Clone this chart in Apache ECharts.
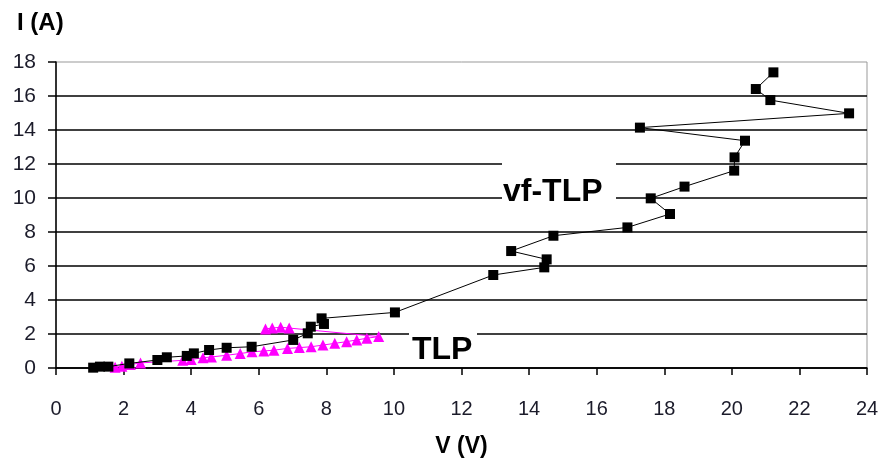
<!DOCTYPE html>
<html>
<head>
<meta charset="utf-8">
<script src="https://cdn.jsdelivr.net/npm/echarts@6/dist/echarts.min.js"></script>
<style>
  html, body { margin: 0; padding: 0; background: #fff; }
  #chart { width: 883px; height: 464px; }
</style>
</head>
<body>
<div id="chart"></div>
<script>
// vf-TLP measurement, in the order the curve is drawn
var vfV = [1.10, 1.30, 1.55, 2.17, 3.00, 3.28, 3.87, 4.08, 4.53, 5.05, 5.79, 7.02, 7.45, 7.54, 7.93, 7.86,
           10.03, 12.94, 14.45, 14.52, 13.47, 14.72, 16.91, 18.17, 17.60, 18.60, 20.07, 20.08, 20.39,
           17.28, 23.47, 21.14, 20.71, 21.23];
var vfI = [0.02, 0.08, 0.08, 0.27, 0.47, 0.63, 0.71, 0.86, 1.06, 1.19, 1.25, 1.65, 2.04, 2.43, 2.59, 2.92,
           3.27, 5.47, 5.92, 6.39, 6.88, 7.78, 8.27, 9.06, 9.98, 10.67, 11.61, 12.39, 13.37,
           14.14, 14.98, 15.76, 16.41, 17.39];

// standard TLP measurement
var tlpV = [1.75, 1.95, 2.2, 2.5, 3.75, 4.0, 4.35, 4.6, 5.05, 5.45, 5.8, 6.15, 6.45, 6.85, 7.2, 7.55,
            7.9, 8.25, 8.6, 8.9, 9.2, 9.55, 6.9, 6.65, 6.4, 6.2];
var tlpI = [0.05, 0.1, 0.2, 0.3, 0.45, 0.5, 0.6, 0.65, 0.75, 0.85, 0.95, 1.0, 1.05, 1.15, 1.2, 1.25,
            1.35, 1.45, 1.55, 1.65, 1.75, 1.85, 2.35, 2.4, 2.35, 2.3];

var xTicks = { min: 0, max: 24, step: 2 };
var yTicks = { min: 0, max: 18, step: 2 };

function pairs(xs, ys) {
    var out = [];
    for (var i = 0; i < xs.length; i++) out.push([xs[i], ys[i]]);
    return out;
}

var myChart = echarts.init(document.getElementById('chart'));
var labelFont = 'Liberation Sans, Arial, sans-serif';

var option = {
    backgroundColor: '#fff',
    animation: false,
    grid: {
        left: 56, right: 16, top: 62, bottom: 96,
        show: true, borderColor: '#999', borderWidth: 1
    },
    xAxis: {
        type: 'value',
        min: xTicks.min, max: xTicks.max, interval: xTicks.step,
        name: 'V (V)',
        nameLocation: 'middle',
        nameGap: 67,
        nameTextStyle: { fontFamily: labelFont, fontWeight: 'bold', fontSize: 23, color: '#000' },
        axisLine: { lineStyle: { color: '#000', width: 1.5 } },
        axisTick: { length: 7, lineStyle: { color: '#000', width: 1.5 } },
        axisLabel: { margin: 31, fontFamily: labelFont, fontSize: 20, color: '#1b1b2a' },
        splitLine: { show: false }
    },
    yAxis: {
        type: 'value',
        min: yTicks.min, max: yTicks.max, interval: yTicks.step,
        axisLine: { lineStyle: { color: '#000', width: 1.5 } },
        axisTick: { length: 8, lineStyle: { color: '#000', width: 1.5 } },
        axisLabel: { margin: 20, fontFamily: labelFont, fontSize: 21, color: '#1b1b2a' },
        splitLine: { show: true, showMaxLine: false, lineStyle: { color: '#000', width: 1.5 } }
    },
    graphic: [
        { type: 'text', left: 17, top: 11, z: 5,
          style: { text: 'I (A)', font: 'bold 24px ' + labelFont, fill: '#000' } },
        { type: 'rect', z: 1, shape: { x: 502, y: 156, width: 114, height: 50 }, style: { fill: '#fff' } },
        { type: 'text', z: 5, x: 503, y: 192,
          style: { text: 'vf-TLP', font: 'bold 32px ' + labelFont, fill: '#000', textVerticalAlign: 'middle' } },
        { type: 'rect', z: 1, shape: { x: 409, y: 314, width: 68, height: 48 }, style: { fill: '#fff' } },
        { type: 'text', z: 5, x: 412, y: 350,
          style: { text: 'TLP', font: 'bold 32px ' + labelFont, fill: '#000', textVerticalAlign: 'middle' } }
    ],
    series: [
        {
            name: 'TLP',
            type: 'line',
            z: 3,
            data: pairs(tlpV, tlpI),
            symbol: 'triangle',
            symbolSize: [11, 11],
            itemStyle: { color: '#ff00ff' },
            lineStyle: { color: '#ff00ff', width: 1 }
        },
        {
            name: 'vf-TLP',
            type: 'line',
            z: 4,
            data: pairs(vfV, vfI),
            symbol: 'rect',
            symbolSize: 10,
            itemStyle: { color: '#000' },
            lineStyle: { color: '#000', width: 1 }
        }
    ]
};
myChart.setOption(option);
</script>
</body>
</html>
